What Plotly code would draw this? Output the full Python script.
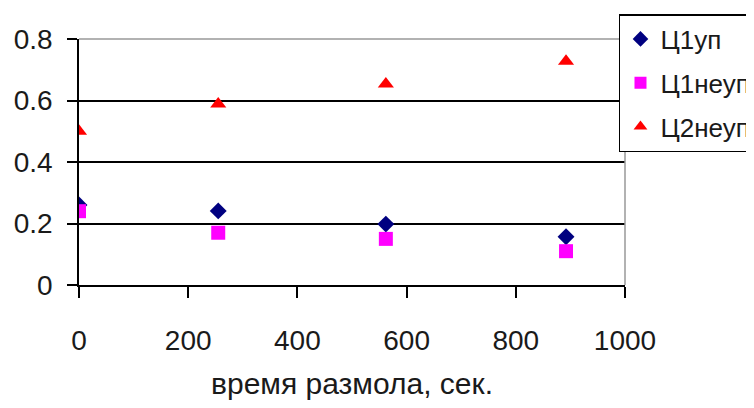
import plotly.graph_objects as go

x_vals = [0, 255, 562, 892]
c1up = [0.26, 0.241, 0.198, 0.157]
c1neup = [0.24, 0.17, 0.15, 0.11]
c2neup = [0.50, 0.589, 0.654, 0.728]
series_names = ["Ц1уп", "Ц1неуп", "Ц2неуп"]
x_ticks = [0, 200, 400, 600, 800, 1000]
y_ticks = [0, 0.2, 0.4, 0.6, 0.8]
y_tick_text = ["0", "0.2", "0.4", "0.6", "0.8"]
x_title = "время размола, сек."

font_family = "Liberation Sans, Arial, sans-serif"
txt = "#1a1a1a"

fig = go.Figure()
fig.add_trace(go.Scatter(x=x_vals, y=c1up, mode="markers", name=series_names[0],
                         legendgroup="a",
                         marker=dict(symbol="diamond", size=13, color="#000080")))
fig.add_trace(go.Scatter(x=x_vals, y=c1neup, mode="markers", name=series_names[1],
                         legendgroup="b",
                         marker=dict(symbol="square", size=14, color="#FF00FF")))
fig.add_trace(go.Scatter(x=x_vals, y=c2neup, mode="markers", name=series_names[2],
                         legendgroup="c",
                         marker=dict(symbol="triangle-up", size=14, color="#FF0000")))

# page body has an 8px default margin, so margins are compensated
fig.update_layout(
    width=754, height=408,
    margin=dict(l=71, r=137, t=31, b=131, autoexpand=False),
    paper_bgcolor="white", plot_bgcolor="white",
    font=dict(family=font_family, size=28, color=txt),
    showlegend=True,
    legend=dict(x=0.989, y=1.1016, xanchor="left", yanchor="top",
                bordercolor="black", borderwidth=1.5, bgcolor="white",
                font=dict(size=26, color=txt),
                tracegroupgap=7, itemsizing="constant", itemwidth=30),
    xaxis=dict(range=[0, 1000], tickvals=x_ticks, ticks="outside", ticklen=11,
               tickcolor="black", tickwidth=1.5, showline=True, linecolor="black",
               linewidth=1.5, showgrid=False, zeroline=False, automargin=False,
               ticklabelstandoff=19,
               title=dict(text=x_title, font=dict(size=30), standoff=18)),
    yaxis=dict(range=[0, 0.8], tickvals=y_ticks, ticktext=y_tick_text,
               ticks="outside", ticklen=10, tickcolor="black", tickwidth=1.5,
               showline=True, linecolor="black", linewidth=1.5, automargin=False,
               ticklabelstandoff=9,
               showgrid=True, gridcolor="black", gridwidth=1.5, zeroline=False),
)

# gray top and right borders of plot area
fig.add_shape(type="line", xref="paper", yref="paper", x0=0, x1=1, y0=1, y1=1,
              line=dict(color="#999999", width=1.5), layer="above")
fig.add_shape(type="line", xref="paper", yref="paper", x0=1, x1=1, y0=0, y1=1,
              line=dict(color="#999999", width=1.5), layer="above")

fig.write_html("out.html")
